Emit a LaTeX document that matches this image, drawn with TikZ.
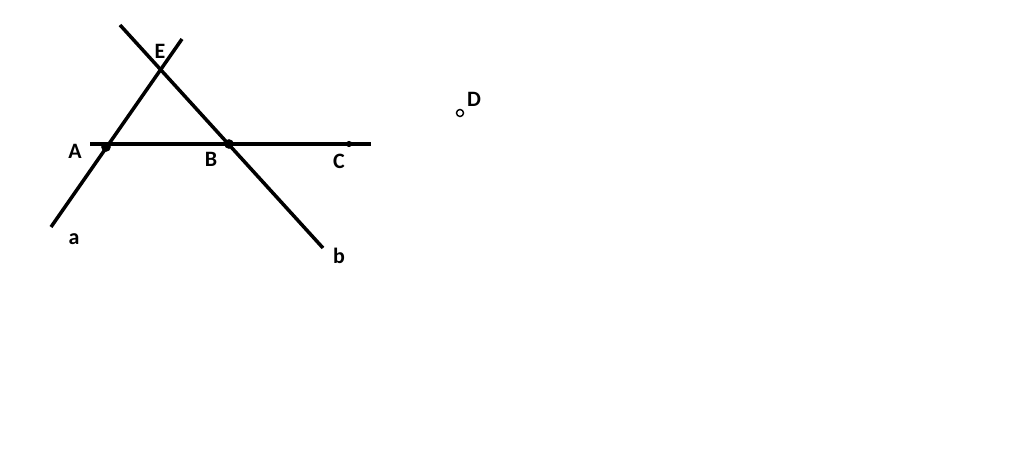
\documentclass[tikz,border=0pt]{standalone}
\usepackage{fontspec}
\setmainfont{Carlito}
\usepackage{tikz}
\usetikzlibrary{calc}
\tikzstyle{line} = [draw,line width=2pt]
\tikzstyle{dot} = [circle,fill=black,inner sep=0pt,minimum size=5.5pt]
\tikzstyle{smalldot} = [circle,fill=black,inner sep=0pt,minimum size=3.5pt]
\tikzstyle{hollowdot} = [circle,draw,line width=0.8pt,inner sep=0pt,minimum size=4pt]
\tikzstyle{lbl} = [font=\bfseries\fontsize{12.5}{14}\selectfont,inner sep=0pt]

\begin{document}
\begin{tikzpicture}[x=0.02cm, y=-0.02cm]
    \useasboundingbox (0,0) rectangle (1024,455);
    % end points of the lines
    \foreach \x/ \y/ \name in {90/144/hl, 371/144/hr, 51/227/al, 182/39/ar, 120/25/bl, 323/248/br}
        \coordinate (\name) at (\x,\y);

    % lines
    \path[line] (hl) -- (hr);
    \path[line] (al) -- (ar);
    \path[line] (bl) -- (br);

    % points on the lines
    \node[dot] (A) at (106,147) {};
    \node[dot] (B) at (229,144) {};
    \node[smalldot] (C) at (349,144) {};
    \node[hollowdot] (D) at (460,113) {};
    \coordinate (E) at (160,68);

    % labels
    \foreach \x/ \y/ \name/ \txt in {160/51/lE/E, 75/151/lA/A, 211/159/lB/B, 339/161/lC/C, 474/99/lD/D, 74/239/la/a, 339/256/lb/b}
        \node[lbl] (\name) at (\x,\y) {\txt};
\end{tikzpicture}
\end{document}
